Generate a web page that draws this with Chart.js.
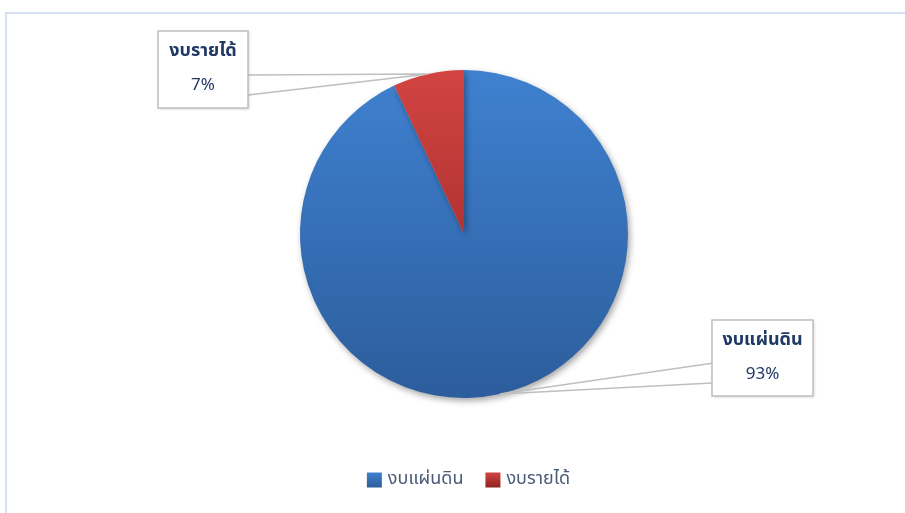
<!DOCTYPE html>
<html>
<head>
<meta charset="utf-8">
<script src="https://cdn.jsdelivr.net/npm/chart.js@4"></script>
<style>
  html, body { margin: 0; padding: 0; background: #fff; }
  #wrap { position: relative; width: 905px; height: 513px; }
  #frame { position: absolute; left: 5px; top: 12px; right: 0; bottom: 0;
           border-top: 2px solid #d6e2f3; border-left: 2px solid #d6e2f3; }
</style>
</head>
<body>
<div id="wrap">
  <canvas id="budgetPie" width="905" height="513"></canvas>
  <div id="frame"></div>
</div>
<script>
// Budget share data
const categories = ['งบแผ่นดิน', 'งบรายได้'];
const shares = [93, 7];

const FONT = '"Noto Sans Thai", "Noto Sans", Tahoma, sans-serif';
const gradStops = [
    ['#3f81d0', '#2c5d9c'],
    ['#d24442', '#8f2321']
];

// callout boxes: x, y, w, h (canvas px)
const calloutBoxes = [
    { x: 712, y: 320, w: 101, h: 76 },
    { x: 158, y: 31, w: 90, h: 77 }
];

function sliceGradient(context) {
    const chart = context.chart;
    const area = chart.chartArea;
    if (!area) return gradStops[context.dataIndex][0];
    const g = chart.ctx.createLinearGradient(0, area.top, 0, area.bottom);
    g.addColorStop(0, gradStops[context.dataIndex][0]);
    g.addColorStop(1, gradStops[context.dataIndex][1]);
    return g;
}

const pieShadow = {
    id: 'pieShadow',
    beforeDatasetsDraw(chart) {
        const ctx = chart.ctx;
        ctx.save();
        ctx.shadowColor = 'rgba(0,0,0,0.35)';
        ctx.shadowBlur = 6;
        ctx.shadowOffsetX = 2;
        ctx.shadowOffsetY = 3;
    },
    afterDatasetsDraw(chart) {
        chart.ctx.restore();
    }
};

const callouts = {
    id: 'callouts',
    afterDatasetsDraw(chart) {
        const ctx = chart.ctx;
        const meta = chart.getDatasetMeta(0);
        const total = shares.reduce((a, b) => a + b, 0);
        meta.data.forEach((arc, i) => {
            const box = calloutBoxes[i];
            const mid = (arc.startAngle + arc.endAngle) / 2;
            const ax = arc.x + Math.cos(mid) * arc.outerRadius;
            const ay = arc.y + Math.sin(mid) * arc.outerRadius;
            const leftSide = box.x > arc.x;
            const ex = leftSide ? box.x : box.x + box.w;
            const y1 = box.y + box.h * 0.57;
            const y2 = box.y + box.h * 0.83;

            ctx.save();
            ctx.strokeStyle = '#bfbfbf';
            ctx.lineWidth = 1.5;
            ctx.beginPath();
            ctx.moveTo(ex, y1);
            ctx.lineTo(ax, ay);
            ctx.lineTo(ex, y2);
            ctx.stroke();

            ctx.shadowColor = 'rgba(0,0,0,0.2)';
            ctx.shadowBlur = 3;
            ctx.shadowOffsetX = 1;
            ctx.shadowOffsetY = 1;
            ctx.fillStyle = '#ffffff';
            ctx.fillRect(box.x, box.y, box.w, box.h);
            ctx.shadowColor = 'transparent';
            ctx.strokeRect(box.x, box.y, box.w, box.h);

            ctx.fillStyle = '#1f3864';
            ctx.textAlign = 'center';
            ctx.textBaseline = 'middle';
            ctx.font = 'bold 18px ' + FONT;
            ctx.fillText(categories[i], box.x + box.w / 2, box.y + 21);
            ctx.font = '17px ' + FONT;
            ctx.fillText(Math.round(shares[i] / total * 100) + '%', box.x + box.w / 2, box.y + 56);
            ctx.restore();
        });
    }
};

const bottomLegend = {
    id: 'bottomLegend',
    afterDraw(chart) {
        const ctx = chart.ctx;
        ctx.save();
        ctx.font = '18px ' + FONT;
        ctx.textBaseline = 'middle';
        const box = 15, gap = 6, spacing = 22;
        const widths = categories.map(c => ctx.measureText(c).width);
        const totalW = widths.reduce((s, w) => s + box + gap + w, 0) + spacing * (categories.length - 1);
        let x = chart.width / 2 + 16 - totalW / 2;
        const cy = 480;
        categories.forEach((c, i) => {
            const g = ctx.createLinearGradient(0, cy - box / 2, 0, cy + box / 2);
            g.addColorStop(0, gradStops[i][0]);
            g.addColorStop(1, gradStops[i][1]);
            ctx.fillStyle = g;
            ctx.fillRect(x, cy - box / 2, box, box);
            x += box + gap;
            ctx.fillStyle = '#4a5a78';
            ctx.textAlign = 'left';
            ctx.fillText(c, x, cy);
            x += widths[i] + spacing;
        });
        ctx.restore();
    }
};

new Chart(document.getElementById('budgetPie').getContext('2d'), {
    type: 'pie',
    data: {
        labels: categories,
        datasets: [{
            data: shares,
            backgroundColor: sliceGradient,
            borderWidth: 0
        }]
    },
    options: {
        responsive: false,
        animation: false,
        layout: { padding: { top: 70, bottom: 115, left: 23, right: 0 } },
        plugins: {
            legend: { display: false },
            tooltip: { enabled: false }
        }
    },
    plugins: [pieShadow, callouts, bottomLegend]
});
</script>
</body>
</html>
